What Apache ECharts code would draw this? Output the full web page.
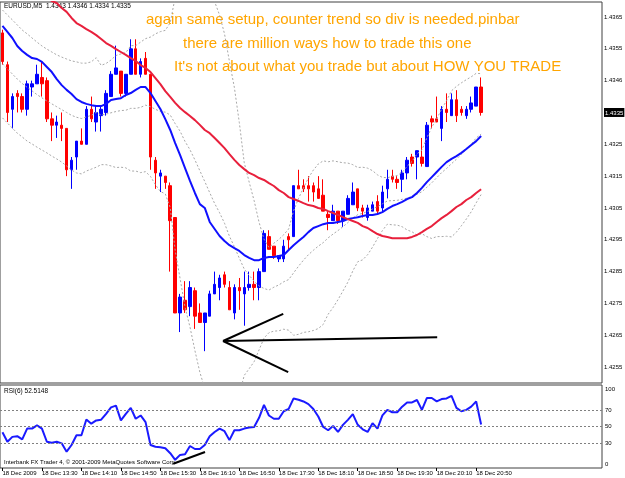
<!DOCTYPE html>
<html lang="en">
<head>
<meta charset="UTF-8" />
<title>EURUSD,M5</title>
<script src="https://cdn.jsdelivr.net/npm/echarts@6.0.0/dist/echarts.min.js"></script>
<style>html, body { margin: 0; padding: 0; background: #fff; }</style>
</head>
<body>
<div id="main" style="width: 625px; height: 478px"></div>
<script type="text/javascript">
// 5-minute bars, 18 Dec 2009 12:50 .. 20:55
const barOpen = [1.4360,1.4350,1.4336,1.4341,1.4340,1.4336,1.4343,1.4344,1.4346,1.4345,1.4333,1.4331,1.4331,1.4330,1.4317,1.4321,1.4326,1.4325,1.4336,1.4332,
  1.4334,1.4335,1.4340,1.4347,1.4348,1.4341,1.4347,1.4355,1.4347,1.4352,1.4347,1.4320,1.4315,1.4315,1.4312,1.4302,1.4272,1.4276,1.4274,1.4279,
  1.4272,1.4269,1.4271,1.4278,1.4280,1.4284,1.4280,1.4272,1.4280,1.4278,1.4280,1.4281,1.4280,1.4285,1.4296,1.4293,1.4289,1.4289,1.4296,1.4296,
  1.4312,1.4312,1.4312,1.4312,1.4311,1.4309,1.4303,1.4301,1.4304,1.4301,1.4303,1.4306,1.4311,1.4305,1.4302,1.4304,1.4307,1.4305,1.4311,1.4315,
  1.4314,1.4314,1.4316,1.4321,1.4321,1.4321,1.4318,1.4333,1.4333,1.4330,1.4336,1.4334,1.4339,1.4336,1.4334,1.4336,1.4337,1.4343];
const barHigh = [1.4361,1.4351,1.4341,1.4342,1.4341,1.4345,1.4345,1.4350,1.4351,1.4346,1.4335,1.4334,1.4335,1.4330,1.4321,1.4326,1.4330,1.4337,1.4340,1.4337,
  1.4337,1.4342,1.4348,1.4356,1.4348,1.4347,1.4358,1.4358,1.4352,1.4354,1.4347,1.4321,1.4317,1.4315,1.4313,1.4302,1.4278,1.4282,1.4282,1.4280,
  1.4275,1.4272,1.4279,1.4285,1.4284,1.4285,1.4282,1.4281,1.4283,1.4285,1.4285,1.4285,1.4286,1.4298,1.4298,1.4293,1.4290,1.4295,1.4297,1.4312,
  1.4317,1.4314,1.4315,1.4313,1.4315,1.4314,1.4304,1.4306,1.4304,1.4304,1.4309,1.4313,1.4311,1.4306,1.4306,1.4307,1.4309,1.4312,1.4317,1.4317,
  1.4315,1.4317,1.4321,1.4322,1.4323,1.4327,1.4332,1.4334,1.4340,1.4337,1.4341,1.4341,1.4342,1.4337,1.4337,1.4340,1.4343,1.4346];
const barLow = [1.4350,1.4332,1.4330,1.4335,1.4335,1.4334,1.4340,1.4344,1.4340,1.4332,1.4326,1.4327,1.4326,1.4315,1.4311,1.4317,1.4325,1.4325,1.4332,1.4329,
  1.4329,1.4334,1.4340,1.4347,1.4340,1.4340,1.4347,1.4347,1.4346,1.4347,1.4317,1.4311,1.4310,1.4311,1.4285,1.4272,1.4266,1.4272,1.4271,1.4267,
  1.4269,1.4260,1.4271,1.4278,1.4276,1.4280,1.4273,1.4270,1.4273,1.4268,1.4279,1.4276,1.4276,1.4285,1.4292,1.4289,1.4288,1.4288,1.4292,1.4296,
  1.4311,1.4310,1.4307,1.4307,1.4308,1.4304,1.4298,1.4301,1.4300,1.4299,1.4303,1.4306,1.4304,1.4302,1.4301,1.4304,1.4303,1.4304,1.4308,1.4313,
  1.4311,1.4310,1.4314,1.4318,1.4314,1.4318,1.4318,1.4330,1.4332,1.4326,1.4332,1.4334,1.4332,1.4334,1.4333,1.4335,1.4337,1.4334];
const barClose = [1.4351,1.4335,1.4340,1.4340,1.4336,1.4344,1.4344,1.4347,1.4344,1.4333,1.4331,1.4332,1.4330,1.4317,1.4320,1.4326,1.4325,1.4336,1.4333,1.4335,
  1.4336,1.4341,1.4347,1.4349,1.4341,1.4347,1.4355,1.4347,1.4351,1.4347,1.4321,1.4316,1.4316,1.4313,1.4301,1.4272,1.4277,1.4273,1.4280,1.4271,
  1.4269,1.4272,1.4278,1.4281,1.4283,1.4281,1.4273,1.4280,1.4279,1.4280,1.4281,1.4280,1.4285,1.4297,1.4292,1.4290,1.4290,1.4293,1.4295,1.4312,
  1.4311,1.4311,1.4311,1.4310,1.4308,1.4304,1.4302,1.4304,1.4301,1.4304,1.4308,1.4310,1.4305,1.4304,1.4305,1.4306,1.4304,1.4310,1.4314,1.4314,
  1.4313,1.4316,1.4320,1.4319,1.4323,1.4319,1.4331,1.4332,1.4332,1.4336,1.4335,1.4339,1.4334,1.4335,1.4336,1.4338,1.4343,1.4335];

const fastMA = [1.43622,1.43603,1.43584,1.43559,1.43543,1.43531,1.43521,1.43518,1.43509,1.43493,1.43477,1.43455,1.43436,1.43421,1.43408,1.43392,1.43383,1.43377,1.43373,1.43370,
  1.43370,1.43377,1.43389,1.43392,1.43395,1.43405,1.43411,1.43421,1.43430,1.43430,1.43411,1.43386,1.43361,1.43329,1.43295,1.43254,1.43216,1.43175,1.43135,1.43097,
  1.43062,1.43050,1.43006,1.42984,1.42962,1.42946,1.42933,1.42924,1.42915,1.42902,1.42893,1.42886,1.42886,1.42893,1.42896,1.42896,1.42899,1.42902,1.42918,1.42933,
  1.42946,1.42959,1.42974,1.42987,1.42993,1.42999,1.43003,1.43003,1.43006,1.43009,1.43015,1.43018,1.43021,1.43025,1.43028,1.43028,1.43031,1.43037,1.43047,1.43056,
  1.43062,1.43069,1.43078,1.43084,1.43097,1.43113,1.43131,1.43147,1.43163,1.43179,1.43194,1.43204,1.43213,1.43223,1.43235,1.43248,1.43260,1.43276];
const slowMA = [1.43829,1.43817,1.43801,1.43788,1.43776,1.43763,1.43751,1.43738,1.43725,1.43713,1.43700,1.43694,1.43678,1.43666,1.43647,1.43631,1.43622,1.43612,1.43603,1.43593,
  1.43581,1.43568,1.43559,1.43549,1.43540,1.43531,1.43521,1.43512,1.43499,1.43490,1.43477,1.43458,1.43439,1.43417,1.43399,1.43380,1.43364,1.43351,1.43339,1.43326,
  1.43311,1.43295,1.43285,1.43270,1.43254,1.43238,1.43219,1.43201,1.43185,1.43172,1.43160,1.43153,1.43144,1.43138,1.43128,1.43119,1.43106,1.43097,1.43084,1.43078,
  1.43072,1.43065,1.43059,1.43056,1.43050,1.43047,1.43040,1.43034,1.43028,1.43021,1.43015,1.43009,1.43003,1.42993,1.42987,1.42977,1.42968,1.42962,1.42959,1.42955,
  1.42955,1.42955,1.42955,1.42959,1.42965,1.42974,1.42984,1.42993,1.43006,1.43018,1.43028,1.43040,1.43053,1.43062,1.43075,1.43084,1.43097,1.43109];

// Bollinger bands (dotted grey): upper, middle, lower
const bbUpper = [1.43672,1.43656,1.43641,1.43625,1.43609,1.43597,1.43584,1.43571,1.43559,1.43549,1.43540,1.43531,1.43524,1.43518,1.43512,1.43509,1.43505,1.43505,1.43509,1.43522,
  1.43498,1.43504,1.43515,1.43529,1.43534,1.43538,1.43560,1.43560,1.43571,1.43582,1.43587,1.43597,1.43604,1.43608,1.43632,1.43712,1.43753,1.43780,1.43789,1.43799,
  1.43800,1.43783,1.43747,1.43698,1.43656,1.43597,1.43510,1.43428,1.43318,1.43192,1.43131,1.43073,1.43005,1.42952,1.42926,1.42939,1.42951,1.42966,1.42984,1.43041,
  1.43080,1.43113,1.43144,1.43169,1.43188,1.43198,1.43195,1.43198,1.43195,1.43192,1.43191,1.43186,1.43177,1.43178,1.43175,1.43167,1.43154,1.43146,1.43145,1.43149,
  1.43152,1.43162,1.43181,1.43196,1.43220,1.43232,1.43270,1.43304,1.43329,1.43361,1.43387,1.43418,1.43432,1.43443,1.43453,1.43462,1.43473,1.43472];
const bbMiddle = [1.43503,1.43487,1.43471,1.43455,1.43441,1.43429,1.43418,1.43406,1.43396,1.43386,1.43377,1.43368,1.43359,1.43350,1.43341,1.43335,1.43331,1.43336,1.43341,1.43350,
  1.43342,1.43345,1.43349,1.43353,1.43356,1.43357,1.43363,1.43363,1.43366,1.43373,1.43368,1.43360,1.43353,1.43351,1.43342,1.43315,1.43291,1.43259,1.43233,1.43201,
  1.43167,1.43133,1.43098,1.43064,1.43035,1.43002,1.42961,1.42928,1.42892,1.42858,1.42838,1.42820,1.42805,1.42797,1.42792,1.42801,1.42808,1.42818,1.42825,1.42846,
  1.42867,1.42886,1.42903,1.42917,1.42930,1.42941,1.42956,1.42968,1.42979,1.42991,1.43004,1.43019,1.43029,1.43033,1.43039,1.43047,1.43054,1.43063,1.43072,1.43073,
  1.43074,1.43077,1.43081,1.43086,1.43093,1.43101,1.43115,1.43129,1.43145,1.43161,1.43174,1.43189,1.43203,1.43219,1.43234,1.43250,1.43270,1.43282];
const bbLower = [1.43333,1.43317,1.43301,1.43285,1.43273,1.43260,1.43251,1.43241,1.43232,1.43223,1.43213,1.43204,1.43194,1.43182,1.43169,1.43160,1.43157,1.43166,1.43172,1.43178,
  1.43186,1.43186,1.43182,1.43177,1.43178,1.43176,1.43166,1.43166,1.43161,1.43164,1.43149,1.43123,1.43102,1.43094,1.43051,1.42917,1.42828,1.42738,1.42676,1.42602,
  1.42534,1.42482,1.42449,1.42430,1.42414,1.42407,1.42412,1.42427,1.42465,1.42524,1.42545,1.42567,1.42604,1.42641,1.42658,1.42663,1.42664,1.42669,1.42666,1.42650,
  1.42653,1.42659,1.42661,1.42665,1.42671,1.42684,1.42716,1.42737,1.42762,1.42789,1.42817,1.42852,1.42881,1.42887,1.42903,1.42927,1.42954,1.42979,1.42999,1.42997,
  1.42996,1.42991,1.42981,1.42975,1.42965,1.42969,1.42960,1.42954,1.42960,1.42960,1.42961,1.42959,1.42974,1.42994,1.43015,1.43038,1.43066,1.43092];

// RSI(6)
const rsiValues = [43,31.6,37.5,38.3,34.4,47.5,47.5,51.4,47.5,31.6,30.4,31.6,29.7,19.7,27.7,39.5,39.5,58.5,53.4,57.3,
  58.2,65.3,73.1,75.1,57.3,65.3,72.4,59.3,63.3,55.3,27.7,25.6,24.9,23.7,17.8,9.9,15.8,16.6,26.5,22.9,
  22.9,27.7,38.3,43.4,47.5,44.3,33.6,45.5,45.5,47.5,48.7,49.4,60.5,76,63.3,59.3,59.3,68.4,71.2,83.8,
  82.3,80.2,77,71,62,49.4,45.5,50.6,43.4,52,58,65,52,46.6,43.4,54,47.5,63.3,70,67.2,
  67.2,73.9,79,79,81.9,70,84.3,84.3,80.2,83.1,83.8,87,72.4,68.4,70,73.9,80.2,52.5];
const rsiLevels = [30, 50, 70];

// hand-drawn trend lines: [bar index, price]
const arrowLines = [
  [[44.7, 1.42632], [56.9, 1.42717]],
  [[44.7, 1.42632], [57.9, 1.42534]],
  [[44.7, 1.42632], [88.1, 1.42644]]
];
const rsiArrow = [[34.6, 5.1], [41.05, 19.3]];

const priceTicks = [1.4255,1.4265,1.4275,1.4285,1.4295,1.4305,1.4315,1.4325,1.4335,1.4345,1.4355,1.4365];
const priceTickLabels = ['1.4255','1.4265','1.4275','1.4285','1.4295','1.4305','1.4315','1.4325','1.4335','1.4346','1.4355','1.4365'];
const rsiTicks = [0, 30, 50, 70, 100];
const timeLabels = ['18 Dec 2009','18 Dec 13:30','18 Dec 14:10','18 Dec 14:50','18 Dec 15:30','18 Dec 16:10','18 Dec 16:50',
  '18 Dec 17:30','18 Dec 18:10','18 Dec 18:50','18 Dec 19:30','18 Dec 20:10','18 Dec 20:50'];

const notes = [
  'again same setup, counter trend so div is needed.pinbar',
  'there are million ways how to trade this one',
  "It's not about what you trade but about HOW YOU TRADE"
];

const nBars = barOpen.length;
const slots = 122; // bars plus empty chart shift on the right
const categories = [];
for (let i = 0; i < slots; i++) {
  const m = 12 * 60 + 50 + 5 * i;
  categories.push(String(Math.floor(m / 60) % 24).padStart(2, '0') + ':' + String(m % 60).padStart(2, '0'));
}
const candles = barOpen.map((o, i) => [o, barClose[i], barLow[i], barHigh[i]]);
const lastClose = barClose[nBars - 1];

const small = '"Liberation Sans", Arial, sans-serif';
const showTime = (idx) => idx % 8 === 0 && idx < nBars;

const bandSeries = [bbUpper, bbMiddle, bbLower].map(d => ({
  type: 'line', xAxisIndex: 0, yAxisIndex: 0, data: d, symbol: 'none', silent: true,
  lineStyle: { color: '#a8a8a8', width: 1, type: [2, 2] }
}));

let myChart = echarts.init(document.getElementById('main'));
let options = {
  animation: false,
  backgroundColor: '#ffffff',
  grid: [
    { left: 0, top: 2, width: 602, height: 381, show: true, borderColor: '#404040', borderWidth: 1, outerBoundsMode: 'none' },
    { left: 0, top: 385, width: 602, height: 83, show: true, borderColor: '#404040', borderWidth: 1, outerBoundsMode: 'none' }
  ],
  xAxis: [
    { type: 'category', gridIndex: 0, data: categories, boundaryGap: true, show: false },
    {
      type: 'category', gridIndex: 1, data: categories, boundaryGap: true,
      axisLine: { show: false },
      axisTick: { show: true, interval: showTime, alignWithLabel: true, length: 3, lineStyle: { color: '#000' } },
      axisLabel: {
        interval: showTime, align: 'left', margin: 2, fontSize: 6, fontFamily: small, color: '#000',
        formatter: (v, idx) => timeLabels[idx / 8]
      },
      splitLine: { show: false }
    },
    { type: 'value', gridIndex: 0, min: -0.5, max: slots - 0.5, show: false },
    { type: 'value', gridIndex: 1, min: -0.5, max: slots - 0.5, show: false }
  ],
  yAxis: [
    {
      type: 'value', gridIndex: 0, position: 'right', min: 1.42500, max: 1.436971,
      axisLine: { show: false }, splitLine: { show: false }, axisTick: { show: false },
      axisLabel: {
        customValues: priceTicks, margin: 2, fontSize: 6, fontFamily: small, color: '#000',
        formatter: (v) => {
          let k = 0;
          priceTicks.forEach((t, i) => { if (Math.abs(t - v) < Math.abs(priceTicks[k] - v)) k = i; });
          // the last close sits on a tick: MT4 shows it in a black box
          return Math.abs(priceTicks[k] - lastClose) < 0.00005 ? '{cur|' + lastClose.toFixed(4) + '}' : priceTickLabels[k];
        },
        rich: { cur: { color: '#fff', backgroundColor: '#000', padding: [2, 1, 1, 1], fontSize: 6, fontFamily: small } }
      }
    },
    {
      type: 'value', gridIndex: 1, position: 'right', min: 0, max: 100,
      axisLine: { show: false }, splitLine: { show: false }, axisTick: { show: false },
      axisLabel: {
        customValues: rsiTicks, margin: 3, fontSize: 6, fontFamily: small, color: '#000',
        formatter: (v) => v === 100 ? '{t|100}' : v === 0 ? '{b|0}' : String(v),
        rich: { t: { padding: [8, 0, 0, 0], fontSize: 6 }, b: { padding: [0, 0, 8, 0], fontSize: 6 } }
      }
    }
  ],
  series: bandSeries.concat([
    {
      name: 'EURUSD', type: 'candlestick', xAxisIndex: 0, yAxisIndex: 0, data: candles, barWidth: 3,
      itemStyle: { color: '#0000ff', color0: '#ff0000', borderColor: '#0000ff', borderColor0: '#ff0000', borderWidth: 1 }
    },
    { name: 'fast', type: 'line', xAxisIndex: 0, yAxisIndex: 0, data: fastMA, symbol: 'none', lineStyle: { color: '#1010ff', width: 2 } },
    { name: 'slow', type: 'line', xAxisIndex: 0, yAxisIndex: 0, data: slowMA, symbol: 'none', lineStyle: { color: '#e8203c', width: 2 } },
    {
      name: 'RSI', type: 'line', xAxisIndex: 1, yAxisIndex: 1, data: rsiValues, symbol: 'none',
      lineStyle: { color: '#1a1aff', width: 2 },
      markLine: {
        silent: true, symbol: 'none', label: { show: false },
        lineStyle: { color: '#808080', type: [2, 2], width: 1 },
        data: rsiLevels.map(v => ({ yAxis: v }))
      }
    },
    { type: 'line', xAxisIndex: 3, yAxisIndex: 1, data: rsiArrow, symbol: 'none', lineStyle: { color: '#000', width: 2 } }
  ]).concat(arrowLines.map(seg => ({
    type: 'line', xAxisIndex: 2, yAxisIndex: 0, data: seg, symbol: 'none', lineStyle: { color: '#000', width: 2 }
  }))),
  graphic: [
    { type: 'text', left: 4, top: 3, style: { text: 'EURUSD,M5  1.4343 1.4346 1.4334 1.4335', font: '6.5px ' + small, fill: '#000' } },
    { type: 'text', left: 146, top: 12, style: { text: notes[0], font: '15px ' + small, fill: '#ffa500' } },
    { type: 'text', left: 183, top: 36, style: { text: notes[1], font: '15px ' + small, fill: '#ffa500' } },
    { type: 'text', left: 174, top: 59, style: { text: notes[2], font: '15px ' + small, fill: '#ffa500' } },
    { type: 'text', left: 4, top: 388, style: { text: 'RSI(6) 52.5148', font: '6.5px ' + small, fill: '#000' } },
    { type: 'text', left: 4, top: 459, style: { text: 'Interbank FX Trader 4, \u00a9 2001-2009 MetaQuotes Software Corp.', font: '6px ' + small, fill: '#000' } }
  ]
};
myChart.setOption(options);
</script>
</body>
</html>
